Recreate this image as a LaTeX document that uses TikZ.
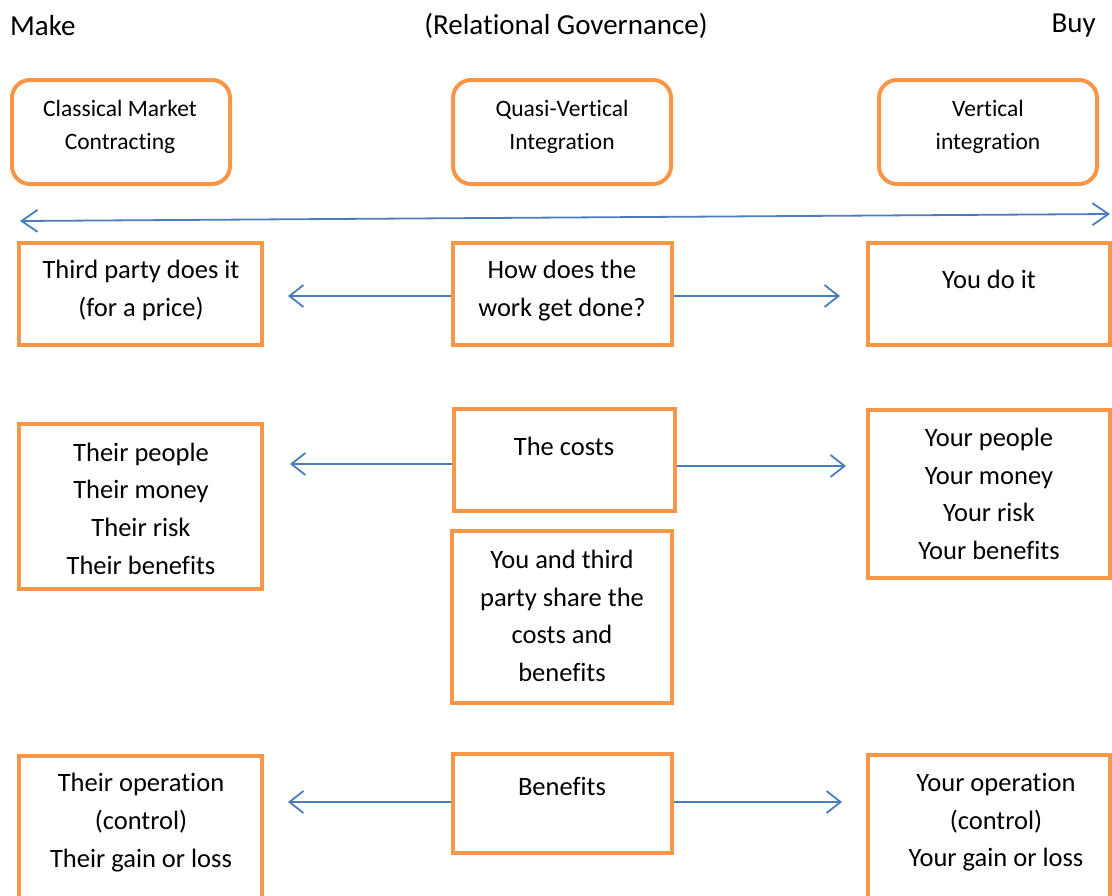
\documentclass[tikz,border=0pt]{standalone}
\usepackage{fontspec}
\setmainfont{Carlito}[Ligatures=NoCommon]
\usetikzlibrary{arrows.meta}
\definecolor{org}{HTML}{F79646}
\definecolor{blu}{HTML}{4A7EBB}
\begin{document}
\begin{tikzpicture}[x=1pt,y=-1pt,
  box/.style={draw=org, line width=4pt, inner sep=0pt},
  rbox/.style={box, rounded corners=18pt},
  body/.style={inner sep=0pt, align=center, font=\fontsize{26.5}{37.6}\selectfont},
  small/.style={inner sep=0pt, align=center, font=\fontsize{23.5}{33}\selectfont},
  head/.style={inner sep=0pt, font=\fontsize{29}{35}\selectfont},
  arr/.style={draw=blu, line width=1.8pt, -{Straight Barb[length=14pt,width=22pt]}},
  darr/.style={draw=blu, line width=1.8pt, {Straight Barb[length=16pt,width=22pt]}-{Straight Barb[length=16pt,width=22pt]}}]
\useasboundingbox (0,0) rectangle (1112,895);
\clip (0,0) rectangle (1112,895);
% headers
\node[head, anchor=west] (make) at (10,26) {Make};
\node[head] (rg) at (566,26) {(Relational Governance)};
\node[head, anchor=east] (buy) at (1096,26) {Buy};
% top rounded boxes
\node[rbox, minimum width=218pt, minimum height=104pt] (t1) at (121,132) {};
\node[small] (t1t) at (120,126.5) {Classical Market\\Contracting};
\node[rbox, minimum width=218pt, minimum height=104pt] (t2) at (562,132) {};
\node[small] (t2t) at (562,126.5) {Quasi-Vertical\\Integration};
\node[rbox, minimum width=218pt, minimum height=104pt] (t3) at (988,132) {};
\node[small] (t3t) at (988,126.5) {Vertical\\integration};
% long arrow
\coordinate (la) at (20,221);
\coordinate (ra) at (1110,214);
\draw[darr] (la) -- (ra);
% row 1
\node[box, minimum width=243pt, minimum height=102pt] (l1) at (140.5,294) {};
\node[body] (l1t) at (141,290.5) {Third party does it\\(for a price)};
\node[box, minimum width=219pt, minimum height=102pt] (m1) at (562.5,294) {};
\node[body] (m1t) at (562,290.5) {How does the\\work get done?};
\node[box, minimum width=242pt, minimum height=102pt] (r1) at (989,294) {};
\node[body] (r1t) at (989,279) {You do it};
\coordinate (a1l) at (288,296);
\coordinate (a1r) at (840,296);
\draw[arr] (m1.west |- a1l) -- (a1l);
\draw[arr] (m1.east |- a1r) -- (a1r);
% row 2
\node[box, minimum width=243pt, minimum height=165pt] (l2) at (140.5,506.5) {};
\node[body] (l2t) at (141,508.5) {Their people\\Their money\\Their risk\\Their benefits};
\node[box, minimum width=221pt, minimum height=102pt] (m2) at (564.5,460) {};
\node[body] (m2t) at (564,446) {The costs};
\node[box, minimum width=220pt, minimum height=172pt] (m2b) at (562,617) {};
\node[body] (m2bt) at (562,616) {You and third\\party share the\\costs and\\benefits};
\node[box, minimum width=242pt, minimum height=168pt] (r2) at (989,494) {};
\node[body] (r2t) at (989,494) {Your people\\Your money\\Your risk\\Your benefits};
\coordinate (a2l) at (290,464);
\coordinate (a2r) at (846,466);
\draw[arr] (m2.west |- a2l) -- (a2l);
\draw[arr] (m2.east |- a2r) -- (a2r);
% row 3
\node[box, minimum width=243pt, minimum height=170pt] (l3) at (140.5,841) {};
\node[body] (l3t) at (141,822.5) {Their operation\\(control)\\Their gain or loss};
\node[box, minimum width=219pt, minimum height=99pt] (m3) at (562.5,803.5) {};
\node[body] (m3t) at (562,786) {Benefits};
\node[box, minimum width=242pt, minimum height=170pt] (r3) at (989,840) {};
\node[body] (r3t) at (996,822.5) {Your operation\\(control)\\Your gain or loss};
\coordinate (a3l) at (288,802);
\coordinate (a3r) at (842,802);
\draw[arr] (m3.west |- a3l) -- (a3l);
\draw[arr] (m3.east |- a3r) -- (a3r);
\end{tikzpicture}
\end{document}
